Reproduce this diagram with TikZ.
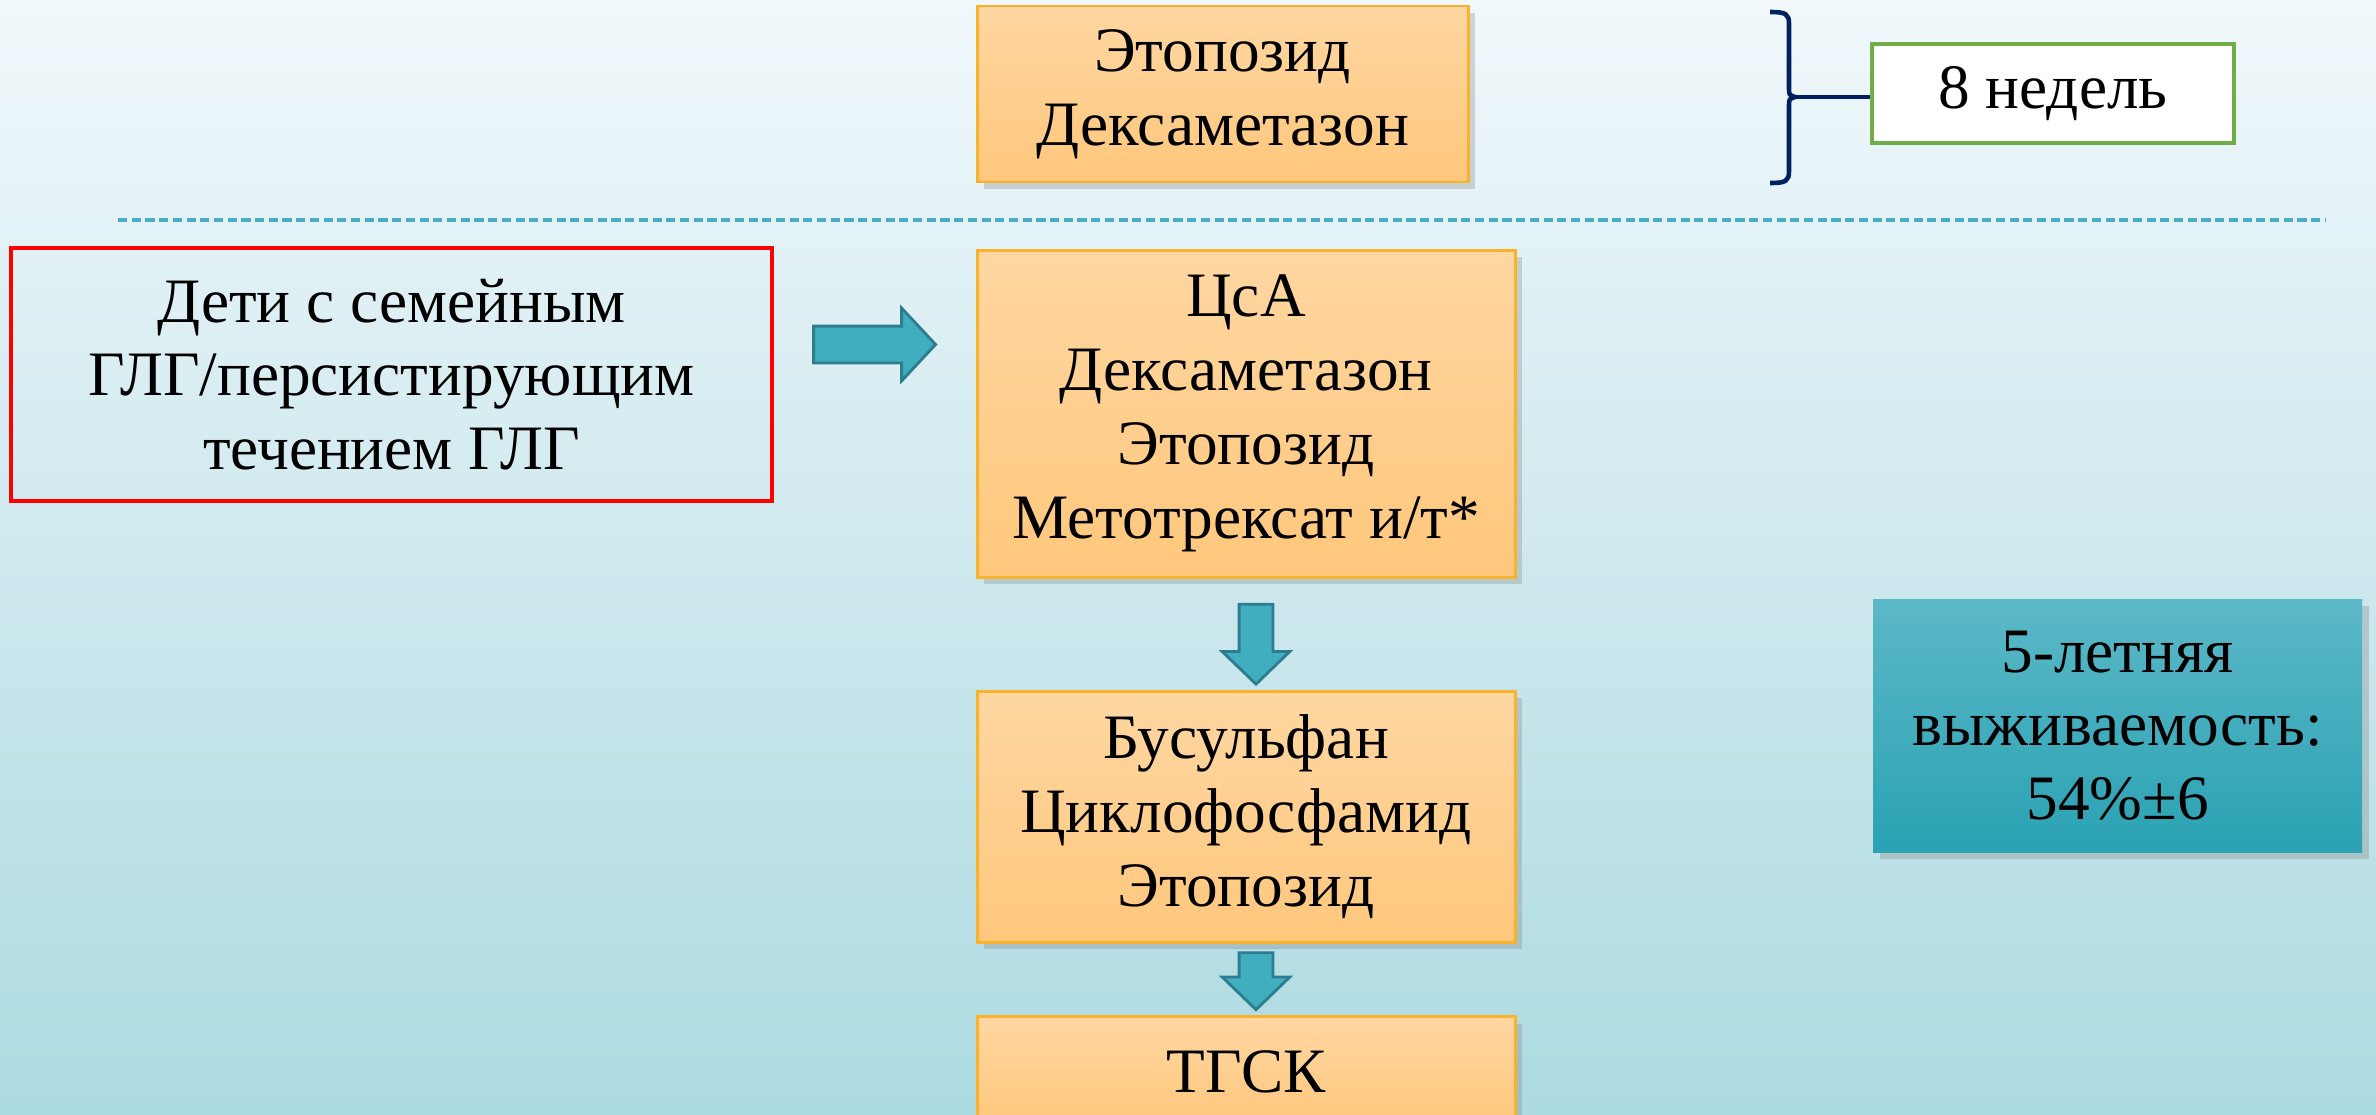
\documentclass[tikz,border=0pt]{standalone}
\usepackage{fontspec}
\setmainfont{Liberation Serif}
\usetikzlibrary{shapes.arrows, shadows, positioning}
\definecolor{bgtop}{RGB}{241,248,251}
\definecolor{bgbot}{RGB}{172,218,225}
\definecolor{drugtop}{RGB}{255,215,162}
\definecolor{drugbot}{RGB}{255,199,124}
\definecolor{drugline}{RGB}{250,178,45}
\definecolor{survtop}{RGB}{92,184,199}
\definecolor{survbot}{RGB}{42,162,179}
\definecolor{arrowfill}{RGB}{65,174,191}
\definecolor{arrowline}{RGB}{46,125,142}
\definecolor{bracecol}{RGB}{0,32,96}
\definecolor{sepline}{RGB}{75,172,198}
\definecolor{weekline}{RGB}{112,173,71}
\tikzstyle{drug} = [rectangle, minimum width=5.38cm, inner sep=0pt, text centered, align=center, draw=drugline, line width=0.85pt, top color=drugtop, bottom color=drugbot, drop shadow={opacity=0.3, shadow xshift=0.07cm, shadow yshift=-0.07cm}]
\tikzstyle{patient} = [rectangle, minimum width=7.61cm, minimum height=2.53cm, align=center, draw=red, line width=0.9pt]
\tikzstyle{weekbox} = [rectangle, minimum width=3.62cm, minimum height=0.99cm, draw=weekline, line width=0.9pt, fill=white]
\tikzstyle{survbox} = [rectangle, minimum width=4.89cm, minimum height=2.53cm, align=center, top color=survtop, bottom color=survbot, drop shadow={opacity=0.3, shadow xshift=0.07cm, shadow yshift=-0.07cm}]
\tikzstyle{blockarrow} = [single arrow, draw=arrowline, line width=0.8pt, fill=arrowfill, inner sep=0.155cm, single arrow head extend=0.17cm, single arrow tip angle=92, shape border rotate=270]
\begin{document}
\begin{tikzpicture}[font=\fontsize{18}{21}\selectfont]
\useasboundingbox (0,0) rectangle (23.76,-11.14);
\clip (0,0) rectangle (23.76,-11.14);
\fill[top color=bgtop, bottom color=bgbot] (0,0) rectangle (23.76,-11.14);

\draw[sepline, line width=1.2pt, dash pattern=on 2.6pt off 1.3pt] (1.18,-2.20) -- (23.26,-2.20);

\node (etop) [drug, minimum width=4.91cm, minimum height=1.76cm] at (12.225,-0.94) {Этопозид\\Дексаметазон};
\node (weeks) [weekbox] at (20.53,-0.935) {8 недель};
\node (kids) [patient] at (3.915,-3.745) {Дети с семейным\\ГЛГ/персистирующим\\течением ГЛГ};
\node (csa) [drug, minimum height=3.27cm] at (12.46,-4.135) {ЦсА\\Дексаметазон\\Этопозид\\Метотрексат и/т*};
\node (busulf) [drug, minimum height=2.51cm, below of=csa, node distance=4.03cm] {Бусульфан\\Циклофосфамид\\Этопозид};
\node (tgsk) [drug, minimum height=1.1cm, below of=busulf, node distance=2.55cm] {ТГСК};
\node (surv) [survbox] at (21.175,-7.255) {5-летняя\\выживаемость:\\54\%±6};

\node (arr1) [blockarrow, shape border rotate=0, inner sep=0.17cm, minimum height=1.22cm, single arrow head extend=0.18cm, single arrow tip angle=94] at (8.66,-3.445) {};
\node (arr2) [blockarrow, minimum height=0.80cm, below of=csa, node distance=2.225cm, xshift=0.1cm] {};
\node (arr3) [blockarrow, minimum height=0.57cm, below of=busulf, node distance=1.565cm, xshift=0.1cm] {};

% brace for the first block
\coordinate (tip) at (17.95,-0.97);
\draw[bracecol, line width=1.3pt] (17.70,-0.12) .. controls (17.86,-0.12) and (17.89,-0.14) .. (17.89,-0.24) -- (17.89,-0.88) .. controls (17.89,-0.95) .. (tip) .. controls (17.89,-0.99) .. (17.89,-1.06) -- (17.89,-1.71) .. controls (17.89,-1.81) and (17.86,-1.83) .. (17.70,-1.83);
\draw[bracecol, line width=1.2pt] (tip) -- (tip -| weeks.west);

\end{tikzpicture}
\end{document}
